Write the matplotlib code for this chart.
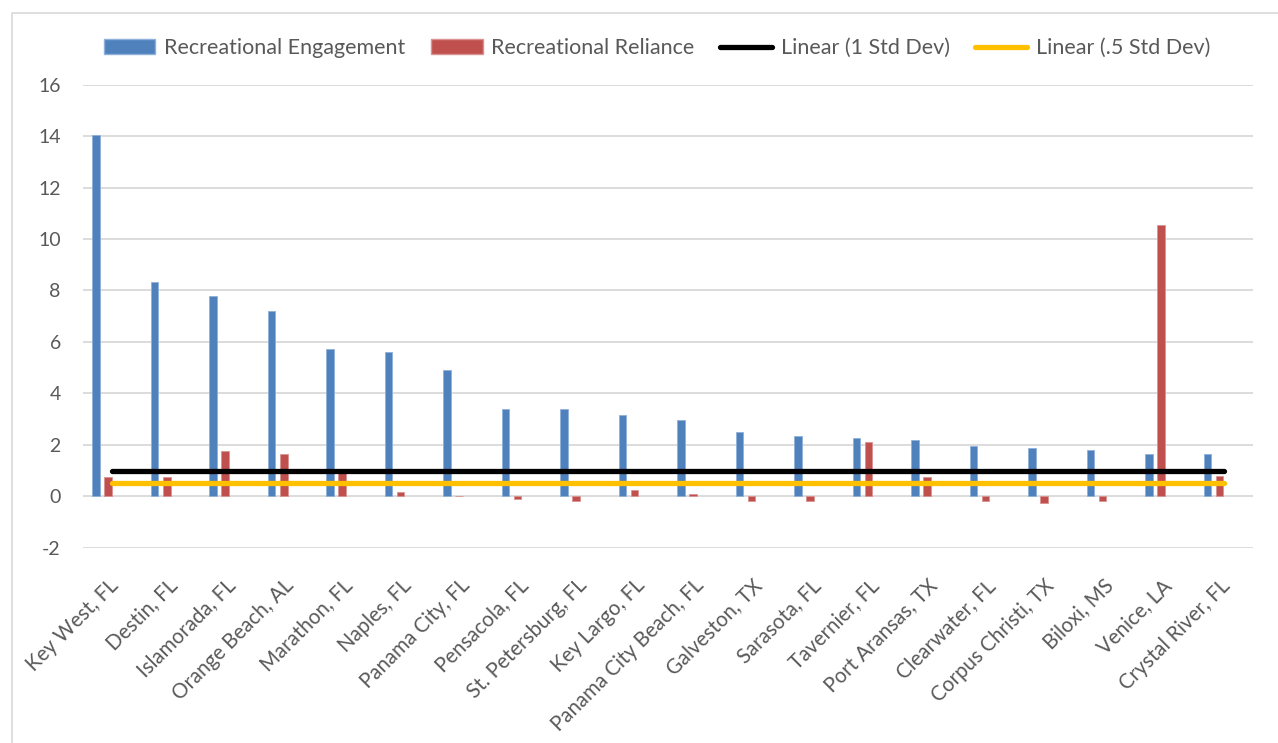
import matplotlib
matplotlib.use("Agg")
import matplotlib.pyplot as plt
from matplotlib.patches import Patch, Rectangle
from matplotlib.lines import Line2D
import matplotlib.transforms as mtransforms
import numpy as np

plt.rcParams['font.family'] = ['Lato', 'DejaVu Sans']

categories = ["Key West, FL", "Destin, FL", "Islamorada, FL", "Orange Beach, AL",
              "Marathon, FL", "Naples, FL", "Panama City, FL", "Pensacola, FL",
              "St. Petersburg, FL", "Key Largo, FL", "Panama City Beach, FL",
              "Galveston, TX", "Sarasota, FL", "Tavernier, FL", "Port Aransas, TX",
              "Clearwater, FL", "Corpus Christi, TX", "Biloxi, MS", "Venice, LA",
              "Crystal River, FL"]
engagement = [14.05, 8.31, 7.77, 7.22, 5.71, 5.59, 4.89, 3.38, 3.38, 3.15,
              2.95, 2.51, 2.36, 2.28, 2.19, 1.97, 1.88, 1.81, 1.66, 1.66]
reliance = [0.73, 0.73, 1.74, 1.66, 0.95, 0.18, 0.0, -0.12, -0.2, 0.26,
            0.10, -0.2, -0.2, 2.12, 0.73, -0.2, -0.28, -0.2, 10.56, 0.79]
std_1 = 0.98
std_half = 0.52
yticks = list(range(-2, 17, 2))

BLUE = "#4F81BD"
RED = "#C0504D"
YELLOW = "#FFC000"
TXT = "#595959"
GRID = "#D9D9D9"

fig = plt.figure(figsize=(12.78, 7.43), dpi=100)
ax = fig.add_axes([0.065, 0.2629, 0.9154, 0.6231])

x = np.arange(len(categories))
w = 0.13
ax.bar(x - 0.28, engagement, width=w, color=BLUE, edgecolor="#8FB0DA", linewidth=0.6, zorder=2)
ax.bar(x - 0.07, reliance, width=w, color=RED, edgecolor="#DA9391", linewidth=0.6, zorder=2)

ax.plot([x[0], x[-1]], [std_1, std_1], color="black", lw=3.8, solid_capstyle="round", zorder=3)
ax.plot([x[0], x[-1]], [std_half, std_half], color=YELLOW, lw=3.8, solid_capstyle="round", zorder=3)

ax.set_xlim(-0.5, len(categories) - 0.5)
ax.set_ylim(-2, 16)
ax.set_yticks(yticks)
ax.set_yticklabels([str(v) for v in yticks])
ax.yaxis.grid(True, color=GRID, lw=1.3)
ax.set_axisbelow(True)
for s in ax.spines.values():
    s.set_visible(False)
ax.tick_params(axis="y", length=0, pad=16, labelsize=14, labelcolor=TXT)
ax.tick_params(axis="x", length=0, pad=20, labelsize=14.8, labelcolor=TXT)
ax.set_xticks(x)
ax.set_xticklabels(categories, rotation=45, ha="right", va="top", rotation_mode="anchor")
for lbl in ax.get_xticklabels():
    lbl.set_transform(lbl.get_transform() + mtransforms.ScaledTranslation(-0.04, 0, fig.dpi_scale_trans))

handles = [Patch(facecolor=BLUE, edgecolor="#8FB0DA"),
           Patch(facecolor=RED, edgecolor="#DA9391"),
           Line2D([], [], color="black", lw=3.8, solid_capstyle="round"),
           Line2D([], [], color=YELLOW, lw=3.8, solid_capstyle="round")]
labels = ["Recreational Engagement", "Recreational Reliance",
          "Linear (1 Std Dev)", "Linear (.5 Std Dev)"]
leg = fig.legend(handles, labels, ncol=4, loc="center", bbox_to_anchor=(0.514, 0.935),
                 frameon=False, fontsize=15.5, handlelength=2.4, handleheight=0.7,
                 handletextpad=0.4, columnspacing=1.2, labelcolor=TXT)

fig.patches.append(Rectangle((12 / 1278, -0.1), 1.2, 1 - 13 / 743 + 0.1,
                             transform=fig.transFigure, fill=False,
                             edgecolor=GRID, lw=1.2))

fig.savefig("out.png", dpi=100, facecolor="white")
